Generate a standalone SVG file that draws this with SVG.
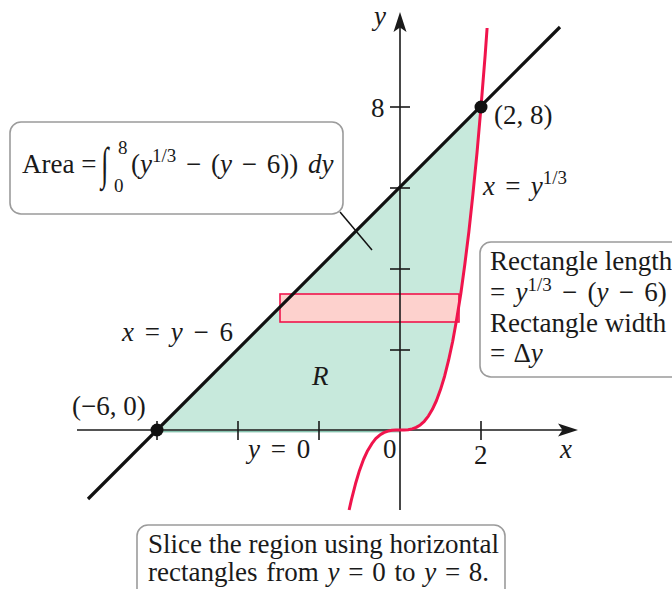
<svg xmlns="http://www.w3.org/2000/svg" width="672" height="589" viewBox="0 0 672 589">
<style>
.t{font-family:"Liberation Serif","Times New Roman",serif;font-size:27px;fill:#1a1a1a}
.i{font-style:italic}
.sm{font-size:19px}
.box{fill:#fff;stroke:#9b9b9b;stroke-width:1.6}
.ax{stroke:#1a1a1a;stroke-width:1.6;fill:none}
.tick{stroke:#1a1a1a;stroke-width:1.6}
.red{stroke:#f0144c;fill:none;stroke-width:3;stroke-linejoin:round;stroke-linecap:butt}
</style>
<g id="region">
<path d="M157,430 L481,107 L477,152.9 L472.9,194.4 L468.9,231.5 L464.8,264.5 L460.8,293.7 L456.7,319.1 L452.7,341.2 L448.6,360.2 L444.6,376.2 L440.5,389.6 L436.5,400.5 L432.4,409.3 L428.4,416.1 L424.3,421.3 L420.3,424.95 L416.2,427.4 L412.2,428.9 L408.1,429.7 L404,429.96 L400,431.5 L157,431.5 Z" fill="#c7e9dc"/>
<line x1="160" y1="431.8" x2="400" y2="431.8" stroke="#5fae94" stroke-width="1"/>
</g>
<g id="slice">
<rect x="280" y="294" width="179" height="28" fill="#fdd1cd" stroke="#f0144c" stroke-width="1.6"/>
</g>
<g id="axes">
<line class="ax" x1="77" y1="430" x2="566" y2="430"/>
<path d="M578,430 L558,423.5 L562.5,430 L558,436.5 Z" fill="#1a1a1a"/>
<line class="ax" x1="400" y1="510" x2="400" y2="24"/>
<path d="M400,12 L393.5,32 L400,27.5 L406.5,32 Z" fill="#1a1a1a"/>
<line class="tick" x1="157" y1="421" x2="157" y2="440"/>
<line class="tick" x1="238" y1="421" x2="238" y2="440"/>
<line class="tick" x1="319" y1="421" x2="319" y2="440"/>
<line class="tick" x1="481" y1="421" x2="481" y2="440"/>
<line class="tick" x1="390" y1="107" x2="410" y2="107"/>
<line class="tick" x1="390" y1="188" x2="410" y2="188"/>
<line class="tick" x1="390" y1="269" x2="410" y2="269"/>
<line class="tick" x1="390" y1="350" x2="410" y2="350"/>
<text class="t i" x="374" y="25">y</text>
<text class="t" x="371" y="117">8</text>
<text class="t" x="383" y="458">0</text>
<text class="t" x="474" y="464">2</text>
<text class="t i" x="560" y="458">x</text>
</g>
<g id="line">
<line x1="88" y1="499" x2="560" y2="27" stroke="#111" stroke-width="3.2"/>
</g>
<g id="curve">
<polyline class="red" points="349.1,510 351.4,499.8 355.5,483.8 359.5,470.4 363.5,459.5 367.6,450.7 371.7,443.9 375.7,438.7 379.8,435.05 383.8,432.6 387.9,431.1 391.9,430.3 396,430.04 400,430 404.05,429.96 408.1,429.7 412.2,428.9 416.2,427.4 420.3,424.95 424.3,421.3 428.4,416.1 432.4,409.3 436.5,400.5 440.5,389.6 444.6,376.2 448.6,360.2 452.7,341.2 456.7,319.1 460.8,293.7 464.8,264.5 468.9,231.5 472.9,194.4 477,152.9 481,106.8 485.1,55.9 487.1,28"/>
</g>
<g id="points">
<circle cx="157" cy="430" r="6.5" fill="#111"/>
<circle cx="481" cy="107" r="6.5" fill="#111"/>
<text class="t" x="72" y="415">(−6, 0)</text>
<text class="t" x="494" y="124">(2, 8)</text>
</g>
<g id="labels">
<text class="t" x="122" y="341" word-spacing="4"><tspan class="i">x</tspan> = <tspan class="i">y</tspan> − 6</text>
<text class="t" x="483" y="195" word-spacing="3.5"><tspan class="i">x</tspan> = <tspan class="i">y</tspan><tspan class="sm" dy="-11">1/3</tspan></text>
<text class="t i" x="312" y="385">R</text>
<text class="t" x="248" y="458" word-spacing="4"><tspan class="i">y</tspan> = 0</text>
</g>
<g id="connectors">
<line x1="340" y1="212" x2="372" y2="250" stroke="#111" stroke-width="1.5"/>
</g>
<g id="area-box">
<rect class="box" x="10" y="122" width="333" height="92" rx="11"/>
<text class="t" x="22" y="173">Area =</text>
<text class="t" transform="translate(101,178.5) scale(1,1.69)" font-size="40">∫</text>
<text class="t sm" x="118" y="154">8</text>
<text class="t sm" x="114" y="192">0</text>
<text class="t" x="131" y="173" word-spacing="3">(<tspan class="i">y</tspan><tspan class="sm" dy="-11">1/3</tspan><tspan dy="11"> − (</tspan><tspan class="i">y</tspan> − 6)) <tspan class="i">dy</tspan></text>
</g>
<g id="rect-box">
<rect class="box" x="480" y="242" width="215" height="135" rx="11"/>
<text class="t" x="490" y="270">Rectangle length</text>
<text class="t" x="490" y="301" word-spacing="3.5">= <tspan class="i">y</tspan><tspan class="sm" dy="-10">1/3</tspan><tspan dy="10"> − (</tspan><tspan class="i">y</tspan> − 6)</text>
<text class="t" x="490" y="332">Rectangle width</text>
<text class="t" x="490" y="362" word-spacing="3">= Δ<tspan class="i">y</tspan></text>
</g>
<g id="slice-box">
<rect class="box" x="137" y="525" width="368" height="80" rx="11"/>
<text class="t" x="148" y="553">Slice the region using horizontal</text>
<text class="t" x="148" y="581" word-spacing="2">rectangles from <tspan class="i">y</tspan> = 0 to <tspan class="i">y</tspan> = 8.</text>
</g>
</svg>
